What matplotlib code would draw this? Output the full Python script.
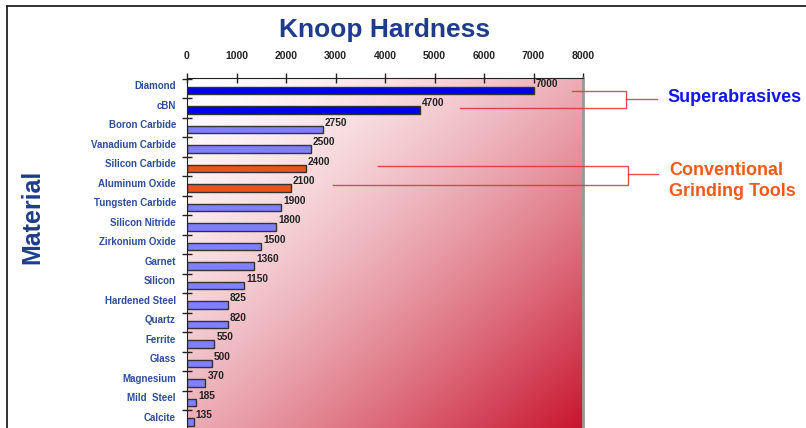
import numpy as np
import matplotlib
matplotlib.use("Agg")
from matplotlib import pyplot as plt
from matplotlib.lines import Line2D

plt.rcParams['font.family'] = ['Liberation Sans', 'DejaVu Sans']

# data
materials = ["Diamond", "cBN", "Boron Carbide", "Vanadium Carbide", "Silicon Carbide",
             "Aluminum Oxide", "Tungsten Carbide", "Silicon Nitride", "Zirkonium Oxide",
             "Garnet", "Silicon", "Hardened Steel", "Quartz", "Ferrite", "Glass",
             "Magnesium", "Mild  Steel", "Calcite"]
hardness = [7000, 4700, 2750, 2500, 2400, 2100, 1900, 1800, 1500, 1360, 1150,
            825, 820, 550, 500, 370, 185, 135]
group = ["super", "super", "other", "other", "conv", "conv", "other", "other", "other",
         "other", "other", "other", "other", "other", "other", "other", "other", "other"]
xticks = [0, 1000, 2000, 3000, 4000, 5000, 6000, 7000, 8000]

colors = {"super": "#0000f0", "conv": "#e8541c", "other": "#8080ff"}
navy = "#1f3c8c"
W, H = 806, 428

fig = plt.figure(figsize=(W / 100, H / 100), dpi=100)
ax = fig.add_axes([187 / W, (H - 429) / H, 396 / W, 351 / H])

n = len(materials)
ax.set_xlim(0, 8000)
ax.set_ylim(n - 0.5, -0.5)

# gradient background, white top-left to crimson bottom-right
gx = np.linspace(0, 1, 300)
gy = np.linspace(0, 1, 300)
U, V = np.meshgrid(gx, gy)
t = ((U + V) / 2) ** 1.5
c0 = np.array([255, 255, 255]) / 255
c1 = np.array([200, 20, 45]) / 255
img = c0 + (c1 - c0) * t[..., None]
ax.imshow(img, extent=[0, 8000, n - 0.5, -0.5], aspect='auto', zorder=0)

y = np.arange(n)
ax.barh(y + 0.14, hardness, height=0.39, color=[colors[g] for g in group],
        edgecolor="#333333", linewidth=1, zorder=2)
for yi, v in zip(y, hardness):
    ax.text(v + 40, yi - 0.2, str(v), fontsize=7.3, fontweight='bold', color='#222222',
            va='center', ha='left', zorder=3)

# axes styling
ax.xaxis.tick_top()
ax.set_xticks(xticks)
ax.set_xticklabels([str(x) for x in xticks], fontsize=7.5, fontweight='bold', color='#222222')
ax.tick_params(axis='x', direction='inout', length=7, width=1, pad=9, color='#222222')
ax.set_yticks(y - 0.12)
ax.set_yticklabels(materials, fontsize=7, fontweight='bold', color='#2e4d9a')
ax.tick_params(axis='y', which='major', length=0, pad=8)
ax.set_yticks(y - 0.45, minor=True)
ax.tick_params(axis='y', which='minor', direction='inout', length=7, width=1, color='#222222')
ax.spines['bottom'].set_visible(False)
ax.spines['top'].set_color('#222222')
ax.spines['left'].set_color('#222222')
ax.spines['right'].set_color('#999999')
ax.spines['right'].set_linewidth(2)

fig.text(385 / W, 1 - 30 / H, "Knoop Hardness", fontsize=19, fontweight='bold',
         color=navy, ha='center', va='center')
fig.text(32 / W, 1 - 217 / H, "Material", fontsize=18, fontweight='bold',
         color=navy, ha='center', va='center', rotation=90)

fig.text(667 / W, 1 - 97 / H, "Superabrasives", fontsize=13, fontweight='bold',
         color='#1414f0', ha='left', va='center')
fig.text(669 / W, 1 - 181 / H, "Conventional\nGrinding Tools", fontsize=13,
         fontweight='bold', color='#f05a1a', ha='left', va='center', linespacing=1.25)


def pline(xs, ys, **kw):
    fig.add_artist(Line2D([x / W for x in xs], [1 - yy / H for yy in ys],
                          transform=fig.transFigure, **kw))


red = dict(color='#dc3232', linewidth=1, alpha=0.85)
# superabrasives bracket
pline([572, 626, 626, 460], [91, 91, 108, 108], **red)
pline([626, 657], [99, 99], **red)
# conventional bracket
pline([378, 628, 628, 333], [166, 166, 185, 185], **red)
pline([628, 658], [174, 174], **red)

# frame lines
pline([7, W], [6, 6], color='#222222', linewidth=1.3)
pline([7, 7], [6, 428], color='#222222', linewidth=1.3)

fig.savefig("out.png", dpi=100)
